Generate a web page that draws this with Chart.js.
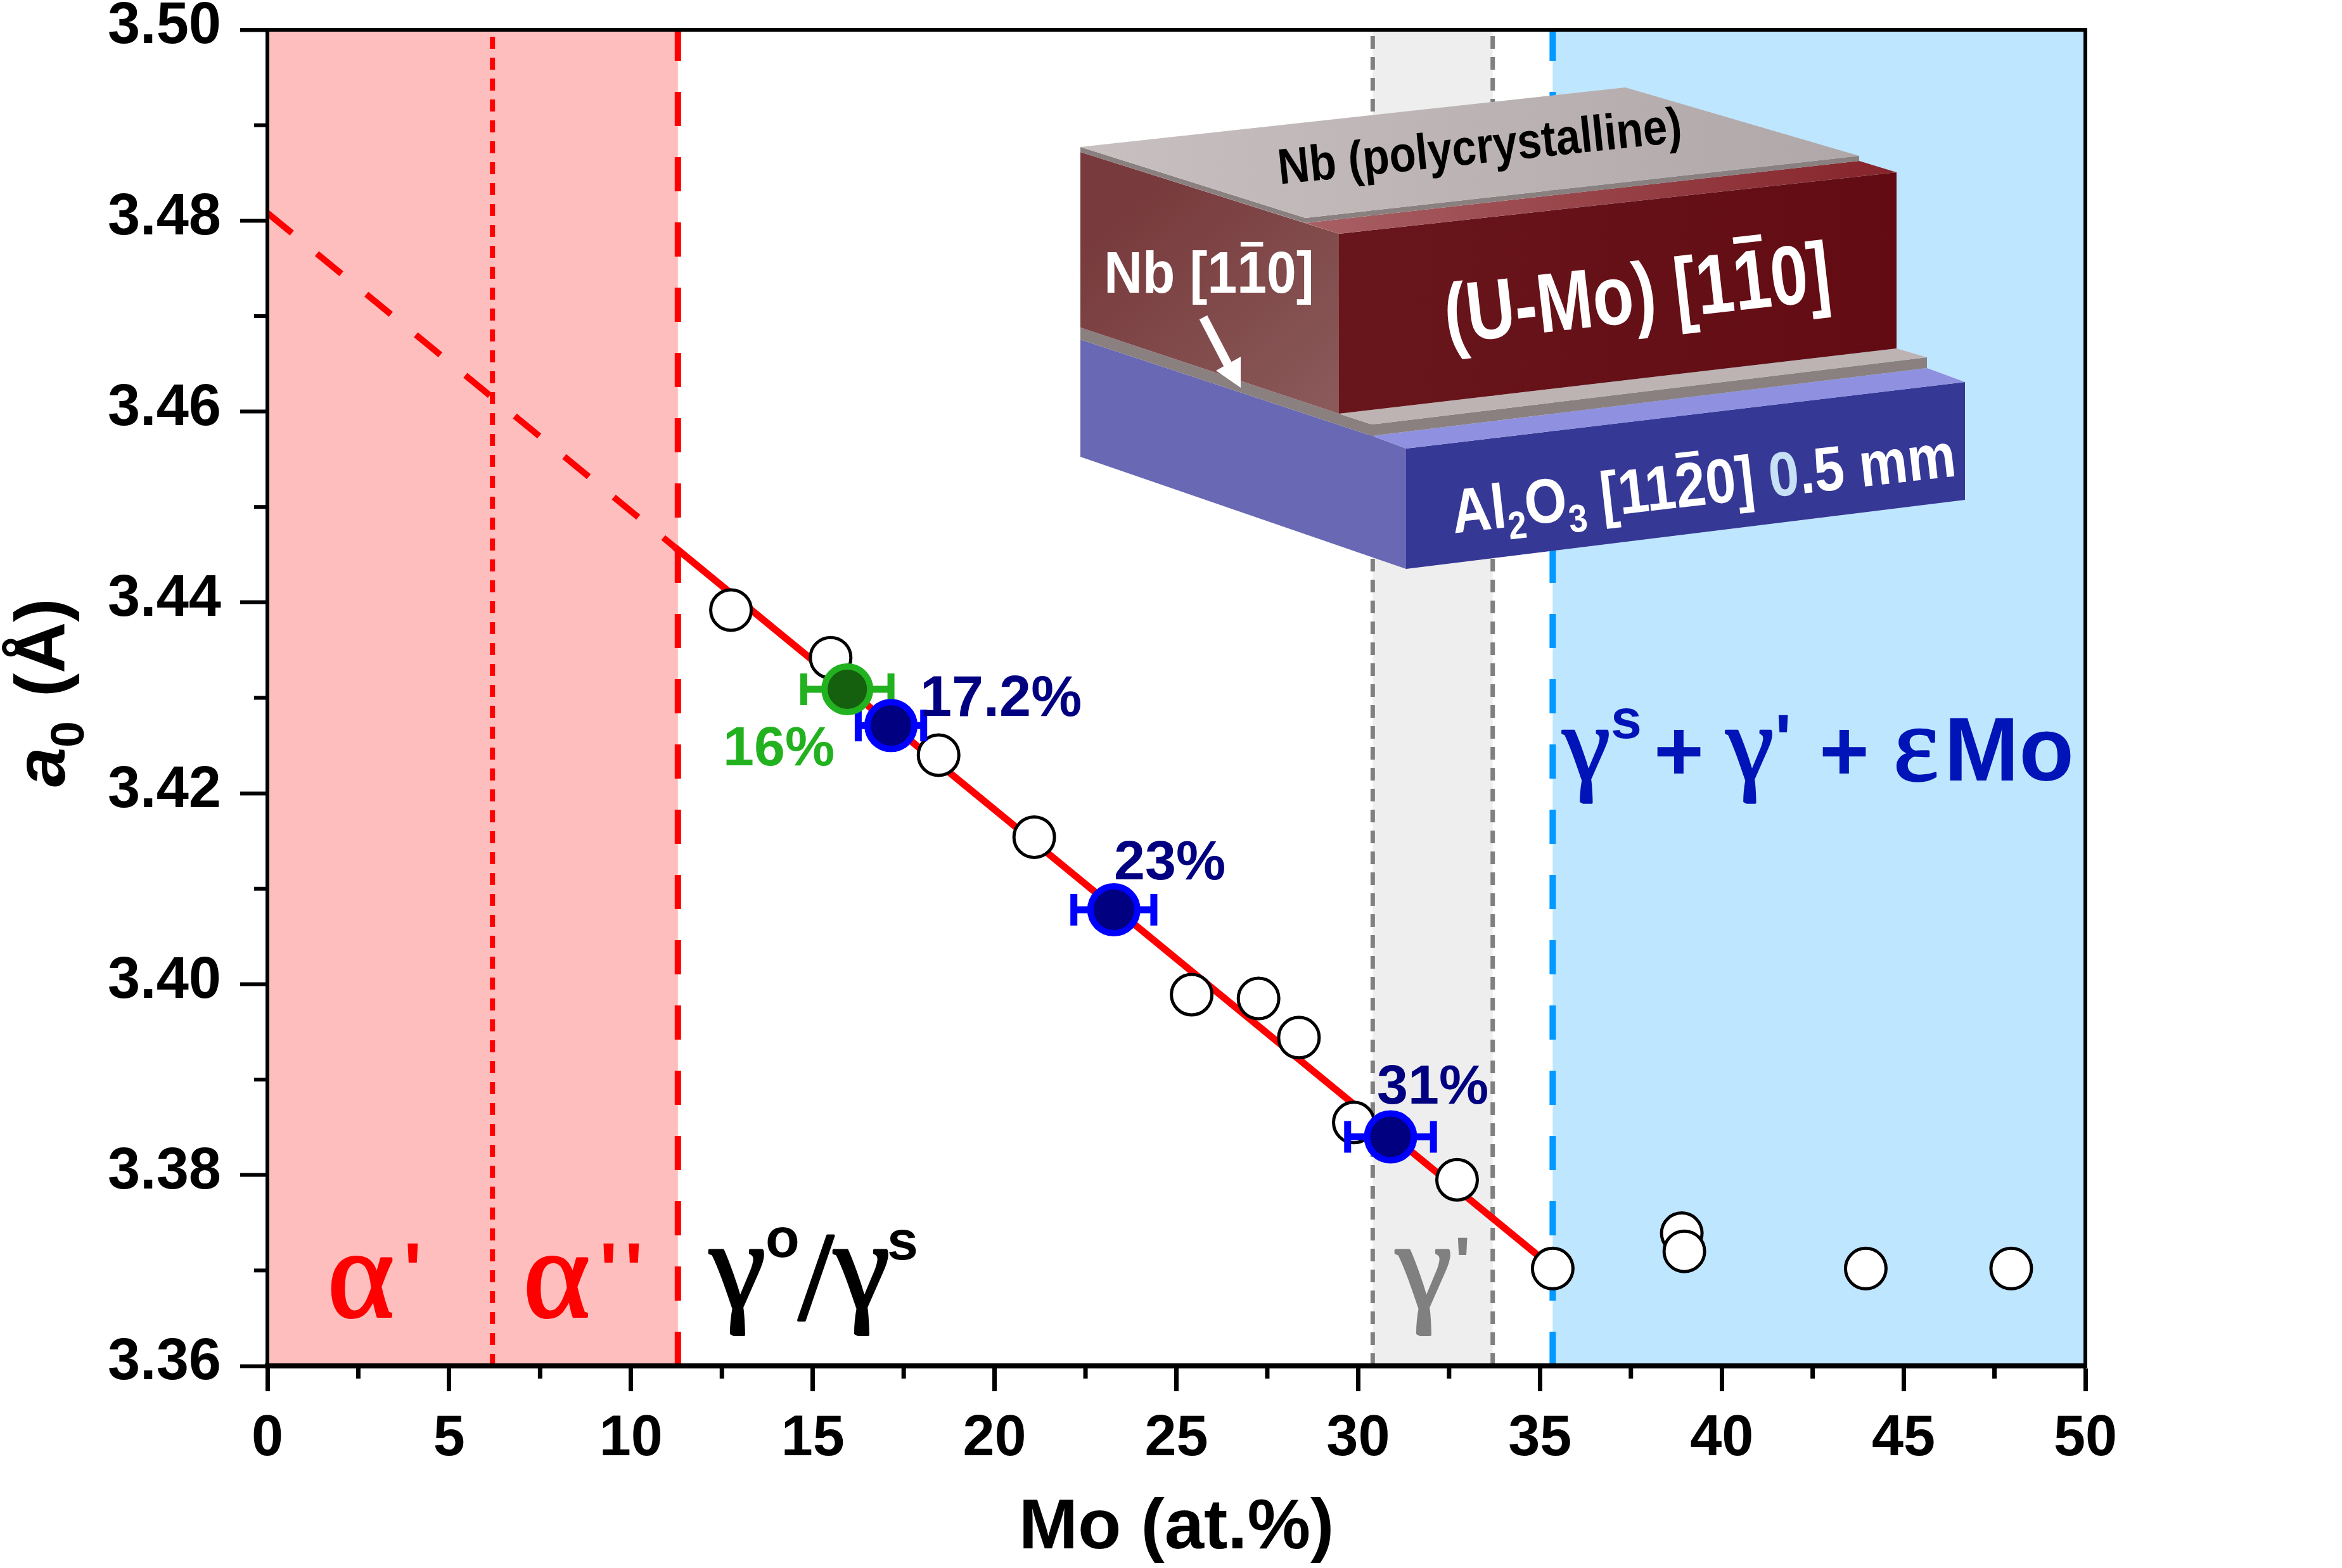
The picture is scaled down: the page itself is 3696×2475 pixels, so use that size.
<!DOCTYPE html>
<html>
<head>
<meta charset="utf-8">
<style>
  html, body { margin: 0; padding: 0; background: #fff; }
  canvas { display: block; }
</style>
<script src="https://cdn.jsdelivr.net/npm/chart.js@4/dist/chart.umd.min.js"></script>
</head>
<body>
<canvas id="myChart" width="3696" height="2475"></canvas>
<script>
// values
var openX = [12.75, 15.49, 18.46, 21.09, 25.42, 27.26, 28.37, 29.88, 32.72, 35.35, 38.9, 38.97, 43.96, 47.96];
var openY = [3.4392, 3.4342, 3.424, 3.4154, 3.3989, 3.3985, 3.3944, 3.3855, 3.3795, 3.3702, 3.3739, 3.372, 3.3702, 3.3702];

var blueX = [17.15, 23.28, 30.89];
var blueY = [3.4271, 3.4078, 3.384];
var blueErr = [0.9, 1.1, 1.18];

var greenX = [15.95];
var greenY = [3.4309];
var greenErr = [1.2];

var dashX = [0, 11.2];
var dashY = [3.4808, 3.4458];
var fitX = [11.2, 35];
var fitY = [3.4458, 3.3714];

var alphaLimitX = 6.19;
var gammaLimitX = 11.29;
var primeStartX = 30.4;
var primeEndX = 33.7;
var epsilonLimitX = 35.35;

var xTickLabels = ['0', '5', '10', '15', '20', '25', '30', '35', '40', '45', '50'];
var yTickLabels = ['3.36', '3.38', '3.40', '3.42', '3.44', '3.46', '3.48', '3.50'];

var SANS = '"Liberation Sans"';
var SERIF = '"Liberation Serif"';

function vline(x, color, width, dash) {
  return {
    data: [{x: x, y: 3.36}, {x: x, y: 3.5}],
    showLine: true, pointRadius: 0, borderColor: color, borderWidth: width,
    borderDash: dash, order: 5
  };
}

function errBar(x, y, e, color) {
  return {
    data: [{x: x - e, y: y}, {x: x + e, y: y}],
    showLine: true, borderColor: color, borderWidth: 11,
    pointStyle: 'line', pointRotation: 90, pointRadius: 25,
    pointBorderColor: color, pointBorderWidth: 11, order: 1
  };
}

function pts(xs, ys) {
  return xs.map(function(x, i) { return {x: x, y: ys[i]}; });
}

var datasets = [
  vline(alphaLimitX, '#ff0000', 8, [19, 14]),
  vline(gammaLimitX, '#ff0000', 10, [54, 49]),
  vline(primeStartX, '#808080', 7, [20, 13]),
  vline(primeEndX, '#808080', 7, [20, 13]),
  vline(epsilonLimitX, '#0099ff', 10, [54, 49]),
  {data: pts(dashX, dashY), showLine: true, pointRadius: 0, borderColor: '#ff0000', borderWidth: 10, borderDash: [50, 51], order: 4},
  {data: pts(fitX, fitY), showLine: true, pointRadius: 0, borderColor: '#ff0000', borderWidth: 11, order: 3},
  {data: pts(openX, openY), showLine: false, pointRadius: 32, pointBorderWidth: 5, pointBackgroundColor: '#fff', pointBorderColor: '#000', order: 2},
  {data: pts(blueX, blueY), showLine: false, pointRadius: 37, pointBorderWidth: 10, pointBackgroundColor: '#000080', pointBorderColor: '#0000ff', order: 0},
  {data: pts(greenX, greenY), showLine: false, pointRadius: 36, pointBorderWidth: 10, pointBackgroundColor: '#14600f', pointBorderColor: '#22b11f', order: 0}
];
blueX.forEach(function(x, i) { datasets.push(errBar(x, blueY[i], blueErr[i], '#0000ff')); });
greenX.forEach(function(x, i) { datasets.push(errBar(x, greenY[i], greenErr[i], '#22b11f')); });

function txt(ctx, s, x, y, font, color) {
  ctx.font = font;
  ctx.fillStyle = color;
  ctx.textAlign = 'left';
  ctx.textBaseline = 'alphabetic';
  ctx.fillText(s, x, y);
}

// greek letters: regular serif thickened a little
function greek(ctx, s, x, y, size, color) {
  txt(ctx, s, x, y, size + 'px ' + SERIF, color);
  ctx.strokeStyle = color;
  ctx.lineWidth = size / 50;
  ctx.lineJoin = 'round';
  ctx.strokeText(s, x, y);
}

function poly(ctx, p, fill) {
  ctx.beginPath();
  ctx.moveTo(p[0], p[1]);
  for (var i = 2; i < p.length; i += 2) ctx.lineTo(p[i], p[i + 1]);
  ctx.closePath();
  ctx.fillStyle = fill;
  ctx.fill();
}

function grad(ctx, x0, y0, x1, y1, c0, c1) {
  var g = ctx.createLinearGradient(x0, y0, x1, y1);
  g.addColorStop(0, c0);
  g.addColorStop(1, c1);
  return g;
}

// rotated text with overbars and subscripts: runs are {t, bar, sub, color}
function runs(ctx, list, size, cx, cy, angle, color, stretch) {
  ctx.save();
  ctx.translate(cx, cy);
  ctx.rotate(angle * Math.PI / 180);
  ctx.scale(1, stretch || 1);
  ctx.textAlign = 'left';
  ctx.textBaseline = 'alphabetic';
  var w = 0;
  list.forEach(function(r) {
    ctx.font = 'bold ' + (r.sub ? size * 0.62 : size) + 'px ' + SANS;
    r.w = ctx.measureText(r.t).width;
    w += r.w;
  });
  var x = -w / 2;
  list.forEach(function(r) {
    ctx.font = 'bold ' + (r.sub ? size * 0.62 : size) + 'px ' + SANS;
    ctx.fillStyle = r.color || color;
    ctx.fillText(r.t, x, size * 0.36 + (r.sub ? size * 0.2 : 0));
    if (r.bar) ctx.fillRect(x + r.w * 0.12, size * 0.36 - size * 0.87, r.w * 0.76, size * 0.08);
    x += r.w;
  });
  ctx.restore();
}

function drawInset(ctx) {
  poly(ctx, [1705,536, 2165,688, 2219,708, 2219,898, 1705,721], '#6868b4');
  poly(ctx, [2219,708, 3101,603, 3101,789, 2219,898], '#363896');
  poly(ctx, [2165,688, 3041,581, 3101,603, 2219,708], '#8f90e0');
  poly(ctx, [1705,517, 2113,653, 2165,670, 2165,688, 1705,536], '#8a8080');
  poly(ctx, [2165,670, 3041,564, 3041,581, 2165,688], '#8a8080');
  poly(ctx, [2113,653, 2993,550, 3041,564, 2165,670], '#bdb3b3');
  poly(ctx, [1705,240, 2113,369, 2113,653, 1705,517], grad(ctx, 1800, 300, 2100, 650, '#783a3c', '#8a5a5a'));
  poly(ctx, [2113,369, 2993,272, 2993,550, 2113,653], grad(ctx, 2113, 0, 2993, 0, '#68161c', '#630b12'));
  poly(ctx, [2060,352, 2934,254, 2993,272, 2113,369], grad(ctx, 2060, 0, 2993, 0, '#a86064', '#86242a'));
  poly(ctx, [1705,232, 2060,344, 2060,352, 1705,240], '#8a8080');
  poly(ctx, [2060,344, 2934,246, 2934,254, 2060,352], '#8a8080');
  poly(ctx, [1705,232, 2565,138, 2934,246, 2060,344], grad(ctx, 1705, 0, 2934, 0, '#c8c0c0', '#b0a8a8'));

  runs(ctx, [{t: 'Nb (polycrystalline)'}], 69, 2335, 229, -6, '#000', 1.15);
  runs(ctx, [{t: 'Nb [1'}, {t: '1', bar: true}, {t: '0]'}], 84, 1908, 429, 0, '#fff', 1.1);
  runs(ctx, [{t: '(U-Mo) [1'}, {t: '1', bar: true}, {t: '0]'}], 106, 2583, 460, -6.5, '#fff', 1.25);
  runs(ctx, [{t: 'Al'}, {t: '2', sub: true}, {t: 'O'}, {t: '3', sub: true}, {t: ' [11'}, {t: '2', bar: true}, {t: '0] '}, {t: '0', color: '#c6e0f5'}, {t: '.5 mm'}], 86, 2688, 761, -6.5, '#fff', 1.15);

  // arrow
  ctx.strokeStyle = '#fff';
  ctx.lineWidth = 14;
  ctx.beginPath();
  ctx.moveTo(1899, 501);
  ctx.lineTo(1939, 578);
  ctx.stroke();
  poly(ctx, [1919,585, 1958,563, 1958,612], '#fff');
}

var overlay = {
  id: 'overlay',
  beforeDatasetsDraw: function(chart) {
    var ctx = chart.ctx, a = chart.chartArea, x = chart.scales.x;
    var bands = [[0, gammaLimitX, '#ffbebe'], [primeStartX, primeEndX, '#eeeeee'], [epsilonLimitX, 50, '#bfe6ff']];
    bands.forEach(function(b) {
      var l = x.getPixelForValue(b[0]), r = x.getPixelForValue(b[1]);
      ctx.fillStyle = b[2];
      ctx.fillRect(l, a.top, r - l, a.bottom - a.top);
    });
  },
  afterDatasetsDraw: function(chart) {
    var ctx = chart.ctx;
    var tick = 'bold 120px ' + SANS;
    drawInset(ctx);

    greek(ctx, 'α', 517, 2078, 200, '#ff0000');
    txt(ctx, "'", 637, 2046, tick, '#ff0000');
    greek(ctx, 'α', 826, 2078, 200, '#ff0000');
    txt(ctx, "'", 946, 2046, tick, '#ff0000');
    txt(ctx, "'", 986, 2046, tick, '#ff0000');

    greek(ctx, 'γ', 1120, 2065, 200, '#000');
    txt(ctx, 'o', 1208, 1984, 'bold 88px ' + SANS, '#000');
    greek(ctx, '/', 1260, 2082, 200, '#000');
    greek(ctx, 'γ', 1316, 2065, 200, '#000');
    txt(ctx, 's', 1400, 1988, 'bold 88px ' + SANS, '#000');

    greek(ctx, 'γ', 2203, 2065, 200, '#808080');
    txt(ctx, "'", 2295, 2029, 'bold 110px ' + SANS, '#808080');

    txt(ctx, '17.2%', 1452, 1130, 'bold 90px ' + SANS, '#000080');
    txt(ctx, '16%', 1141, 1208, 'bold 88px ' + SANS, '#22b11f');
    txt(ctx, '23%', 1758, 1388, 'bold 88px ' + SANS, '#000080');
    txt(ctx, '31%', 2173, 1742, 'bold 88px ' + SANS, '#000080');

    var navy = '#0014b8';
    greek(ctx, 'γ', 2466, 1231, 170, navy);
    txt(ctx, 's', 2542, 1165, 'bold 88px ' + SANS, navy);
    txt(ctx, '+', 2610, 1232, 'bold 135px ' + SANS, navy);
    greek(ctx, 'γ', 2724, 1231, 170, navy);
    txt(ctx, "'", 2801, 1204, 'bold 110px ' + SANS, navy);
    txt(ctx, '+', 2871, 1232, 'bold 135px ' + SANS, navy);
    greek(ctx, 'ε', 2988, 1231, 170, navy);
    txt(ctx, 'Mo', 3068, 1232, 'bold 142px ' + SANS, navy);
  },
  afterDraw: function(chart) {
    var ctx = chart.ctx, a = chart.chartArea, sx = chart.scales.x, sy = chart.scales.y;
    ctx.fillStyle = '#000';
    // top and right frame
    ctx.fillRect(a.left - 43, a.top - 3, a.right - a.left + 46, 6);
    ctx.fillRect(a.right - 3, a.top - 3, 6, a.bottom - a.top + 6);
    // minor ticks: the ones the library leaves without a label
    sx.ticks.forEach(function(t, i) {
      if (!t.label) ctx.fillRect(sx.getPixelForTick(i) - 3.5, a.bottom, 7, 20);
    });
    sy.ticks.forEach(function(t, i) {
      if (!t.label) ctx.fillRect(a.left - 21, sy.getPixelForTick(i) - 3, 21, 6);
    });
    // y title, rotated, italic a with subscript 0
    ctx.save();
    ctx.translate(102, 1242);
    ctx.rotate(-Math.PI / 2);
    txt(ctx, 'a', 0, 0, 'italic bold 112px ' + SANS, '#000');
    txt(ctx, '0', 62, 30, 'bold 75px ' + SANS, '#000');
    txt(ctx, '(Å)', 142, 0, 'bold 112px ' + SANS, '#000');
    ctx.restore();
  }
};

new Chart(document.getElementById('myChart').getContext('2d'), {
  type: 'scatter',
  data: {datasets: datasets},
  plugins: [overlay],
  options: {
    responsive: false,
    devicePixelRatio: 1,
    animation: false,
    events: [],
    layout: {padding: {top: 43, right: 405, left: 0, bottom: 0}},
    plugins: {legend: {display: false}, tooltip: {enabled: false}},
    scales: {
      x: {
        type: 'linear', min: 0, max: 50,
        afterFit: function(s) { s.height = 319; s.paddingLeft = 0; s.paddingRight = 0; },
        border: {color: '#000', width: 8, z: 2},
        grid: {
          drawOnChartArea: false, tickLength: 40, tickWidth: 7, z: 2,
          tickColor: function(c) { return c.tick && c.tick.label ? '#000' : 'rgba(0,0,0,0)'; }
        },
        ticks: {
          stepSize: 2.5, autoSkip: false, maxRotation: 0, padding: 22, color: '#000',
          font: {family: SANS, size: 90, weight: 'bold'},
          callback: function(v) { return xTickLabels.indexOf(String(v)) >= 0 ? String(v) : ''; }
        },
        title: {
          display: true, text: 'Mo (at.%)', color: '#000', padding: {top: 0, bottom: 0},
          font: {family: SANS, size: 112, weight: 'bold', lineHeight: 1.1}
        }
      },
      y: {
        type: 'linear', min: 3.36, max: 3.5,
        afterFit: function(s) { s.width = 422; s.paddingTop = 0; s.paddingBottom = 0; },
        border: {color: '#000', width: 6, z: 2},
        grid: {
          drawOnChartArea: false, tickLength: 43, tickWidth: 6, z: 2,
          tickColor: function(c) { return c.tick && c.tick.label ? '#000' : 'rgba(0,0,0,0)'; }
        },
        ticks: {
          stepSize: 0.01, autoSkip: false, padding: 30, labelOffset: -4, color: '#000',
          font: {family: SANS, size: 92, weight: 'bold'},
          callback: function(v) { var s = v.toFixed(2); return yTickLabels.indexOf(s) >= 0 ? s : ''; }
        }
      }
    }
  }
});
</script>
</body>
</html>
